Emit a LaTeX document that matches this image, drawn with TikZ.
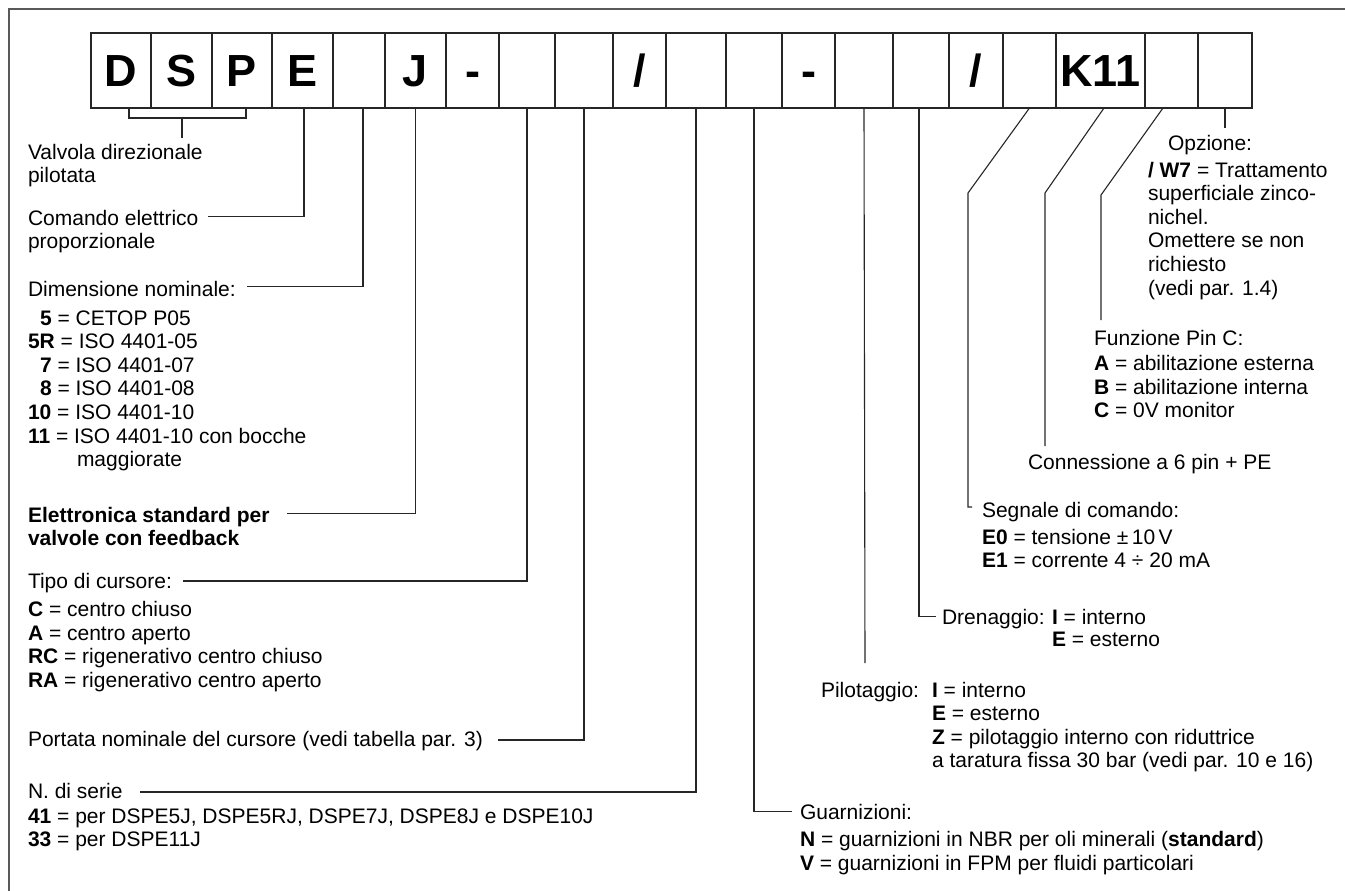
\documentclass[tikz,border=0pt]{standalone}
\usepackage{fontspec}
\setmainfont{Liberation Sans}
\newcommand\lblfont{\fontsize{21}{23.6}\selectfont}
\newcommand\cellfont{\fontsize{45}{50}\selectfont\bfseries}
\newcommand\tb[1]{\begin{tabular}[t]{@{}l@{}}#1\end{tabular}}
\begin{document}
\begin{tikzpicture}[x=1pt,y=-1pt,
  cell/.style={draw=black!85, line width=1.4pt, minimum height=75pt, inner sep=0pt, outer sep=0pt,
     text height=32pt, text depth=0pt, font=\cellfont},
  lbl/.style={anchor=base west, inner sep=0pt, outer sep=0pt, font=\lblfont},
  ld/.style={draw=black!85, line width=1.1pt},
  frame/.style={draw=black!65, line width=2pt}]
\useasboundingbox (0,0) rectangle (1345,891);
\draw[frame] (9,891) -- (9,9) -- (1345,9);
% boxes
\foreach \n/\l/\r/\t in {b1/91/151/D, b2/151/212/S, b3/212/272/P, b4/272/333/E, b5/333/385/{},
  b6/385/446/J, b7/446/499/-, b8/499/555/{}, b9/555/613/{}, b10/613/666/{/},
  b11/666/726/{}, b12/726/782/{}, b13/782/835/-, b14/835/893/{}, b15/893/949/{},
  b16/949/1003/{/}, b17/1003/1056/{}, b18/1056/1145/K11, b19/1145/1198/{}, b20/1198/1252/{}}
  \node[cell, minimum width=\r pt-\l pt] (\n) at ({(\l+\r)/2},70.5) {\t};
% labels
\node[lbl] (vdp) at (28,159) {\tb{Valvola direzionale\\pilotata}};
\node[lbl] (ce) at (28,225) {\tb{Comando elettrico\\proporzionale}};
\node[lbl] (dn) at (28,296) {\tb{Dimensione nominale:\\[5.4pt]
  \hspace*{12pt}\textbf{5} = CETOP P05\\
  \textbf{5R} = ISO 4401-05\\
  \hspace*{12pt}\textbf{7} = ISO 4401-07\\
  \hspace*{12pt}\textbf{8} = ISO 4401-08\\
  \textbf{10} = ISO 4401-10\\
  \textbf{11} = ISO 4401-10 con bocche\\
  \hspace*{49pt}maggiorate}};
\node[lbl, font=\lblfont\bfseries] (es) at (28,522) {\tb{Elettronica standard per\\valvole con feedback}};
\node[lbl] (tc) at (28,588) {\tb{Tipo di cursore:\\[5pt]
  \textbf{C} = centro chiuso\\
  \textbf{A} = centro aperto\\
  \textbf{RC} = rigenerativo centro chiuso\\
  \textbf{RA} = rigenerativo centro aperto}};
\node[lbl] (pn) at (28,746) {Portata nominale del cursore (vedi tabella par. 3)};
\node[lbl] (ns) at (28,798) {\tb{N. di serie\\[1.4pt]
  \textbf{41} = per DSPE5J, DSPE5RJ, DSPE7J, DSPE8J e DSPE10J\\
  \textbf{33} = per DSPE11J}};
\node[lbl] (gu) at (800,819) {\tb{Guarnizioni:\\[4pt]
  \textbf{N} = guarnizioni in NBR per oli minerali (\textbf{standard})\\
  \textbf{V} = guarnizioni in FPM per fluidi particolari}};
\node[lbl] (pil) at (821,697) {Pilotaggio:};
\node[lbl] (pilo) at (932,697) {\tb{\textbf{I} = interno\\
  \textbf{E} = esterno\\
  \textbf{Z} = pilotaggio interno con riduttrice\\
  a taratura fissa 30 bar (vedi par. 10 e 16)}};
\node[lbl] (dr) at (942,624) {Drenaggio:};
\node[lbl] (dro) at (1052,624) {\tb{\textbf{I} = interno\\[-0.8pt]\textbf{E} = esterno}};
\node[lbl] (sc) at (982,517) {\tb{Segnale di comando:\\[3.4pt]
  \textbf{E0} = tensione ±\,10\,V\\
  \textbf{E1} = corrente 4 ÷ 20 mA}};
\node[lbl] (cn) at (1028,469) {Connessione a 6 pin + PE};
\node[lbl] (fp) at (1094,345) {\tb{Funzione Pin C:\\[2pt]
  \textbf{A} = abilitazione esterna\\
  \textbf{B} = abilitazione interna\\
  \textbf{C} = 0V monitor}};
\node[lbl] (op) at (1168,150) {Opzione:};
\node[lbl] (opt) at (1148,177) {\tb{\textbf{/ W7} = Trattamento\\
  superficiale zinco-\\
  nichel.\\
  Omettere se non\\
  richiesto\\
  (vedi par. 1.4)}};
% leader ends
\coordinate (brk) at (182,118);
\coordinate (brkE) at (182,138);
\coordinate (cE) at (208,216.7);
\coordinate (cDim) at (247,286.7);
\coordinate (cJ) at (287,513.3);
\coordinate (cTipo) at (183,581);
\coordinate (cPort) at (498,740);
\coordinate (cSer) at (140,792);
\coordinate (cGua) at (792,811.7);
\coordinate (cPil) at (865,663);
\coordinate (cDre) at (936,616.7);
\coordinate (kSeg) at (968,193);
\coordinate (cSeg) at (972,507);
\coordinate (kCon) at (1045,193);
\coordinate (cCon) at (1045,446);
\coordinate (kFun) at (1101,195);
\coordinate (cFun) at (1101,320);
\coordinate (cOpz) at (1225,128);
% leaders
\draw[ld] ([xshift=8]b1.south) -- ++(0,10) -| ([xshift=4]b3.south);
\draw[ld] (brk) -- (brkE);
\draw[ld] ([xshift=1.5]b4.south) |- (cE);
\draw[ld] ([xshift=4]b5.south) |- (cDim);
\draw[ld] (b6.south) |- (cJ);
\draw[ld] (b8.south) |- (cTipo);
\draw[ld] (b9.south) |- (cPort);
\draw[ld] (b11.south) |- (cSer);
\draw[ld] (b12.south) |- (cGua);
\draw[ld] (b14.south) -- (cPil);
\draw[ld] ([xshift=-2]b15.south) |- (cDre);
\draw[ld] (b17.south) -- (kSeg) |- (cSeg);
\draw[ld] ([xshift=3.5]b18.south) -- (kCon) -- (cCon);
\draw[ld] ([xshift=-8.5]b19.south) -- (kFun) -- (cFun);
\draw[ld] (b20.south) -- (cOpz);
\end{tikzpicture}
\end{document}
